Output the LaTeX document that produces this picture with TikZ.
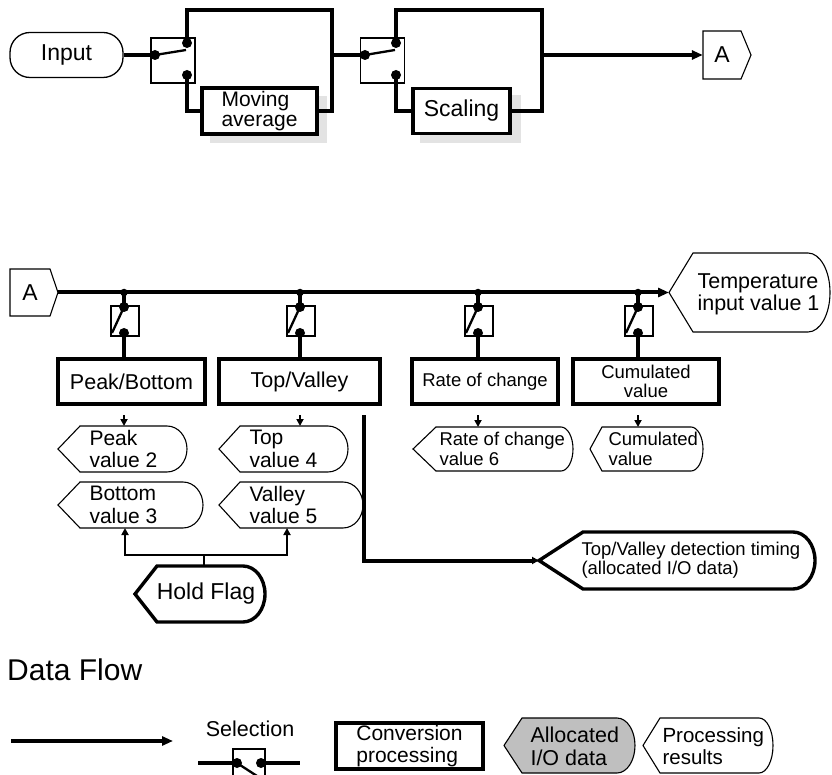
\documentclass[tikz,border=0pt]{standalone}
\usepackage{fontspec}
\setmainfont{Liberation Sans}
\usetikzlibrary{arrows.meta}
% output-data shape: #1 name, #2 tip x, #3 inset, #4 right x, #5 top y, #6 bottom y, #7 end radius, #8 style
\newcommand\outsh[8]{%
  \draw[#8] (#2,{(#5+#6)/2}) -- ({#2+#3},#5) -- ({#4-#7},#5)
    .. controls ({#4-0.448*#7},#5) and (#4,{(#5+#6)/2-0.276*(#6-#5)}) .. (#4,{(#5+#6)/2})
    .. controls (#4,{(#5+#6)/2+0.276*(#6-#5)}) and ({#4-0.448*#7},#6) .. ({#4-#7},#6)
    -- ({#2+#3},#6) -- cycle;
  \node[inner sep=0pt, outer sep=0pt, minimum width={#4-#2}, minimum height={#6-#5}] (#1) at ({(#2+#4)/2},{(#5+#6)/2}) {};
}
\tikzset{
  thickln/.style={line width=3.4pt},
  busln/.style={line width=4pt},
  bigtip/.style={-{Triangle[length=11pt,width=9pt]}},
  smalltip/.style={-{Triangle[length=7pt,width=7pt]}},
  convbox/.style={draw, line width=3.4pt, inner sep=0pt, fill=white},
  swbox/.style={draw, line width=1.1pt, inner sep=0pt},
  swdot/.style={circle, fill=black, inner sep=0pt, minimum size=10pt},
  jdot/.style={circle, fill=black, inner sep=0pt, minimum size=7.5pt},
  lever/.style={line width=2.3pt},
  outl/.style={draw, line width=1.1pt},
  boldl/.style={draw, line width=3.4pt},
  grayio/.style={draw, line width=1.1pt, fill=black!25},
  shadow/.style={fill=black!11},
  fA/.style={font=\fontsize{23}{25}\selectfont},
  fB/.style={font=\fontsize{21.5}{23}\selectfont},
  fC/.style={font=\fontsize{21}{20}\selectfont},
  fD/.style={font=\fontsize{21}{22.5}\selectfont},
  fE/.style={font=\fontsize{18.5}{19.5}\selectfont},
  fT/.style={font=\fontsize{21.5}{22}\selectfont},
}
\begin{document}
\begin{tikzpicture}[x=1pt,y=-1pt]
\useasboundingbox (0,0) rectangle (832,775);
\clip (0,0) rectangle (832,775);

% ================= top section =================
\node[draw, line width=1.3pt, rounded corners=20pt, minimum width=113pt, minimum height=45pt, inner sep=0pt, fA] (input) at (66.5,55) {Input};

% switch 1
\node[swbox, minimum width=44pt, minimum height=45pt] (sw1) at (173,60.5) {};
\node[swdot] (s1in) at (155,55) {};
\node[swdot] (s1up) at (187,43) {};
\node[swdot] (s1dn) at (187,75) {};
\coordinate (s1lev) at (186,50);
\draw[lever] (s1in.center) -- (s1lev);
\draw[thickln] (input.east) -- (s1in.center);

% moving average
\fill[shadow] (210,96) rectangle (327,143);
\node[convbox, minimum width=115pt, minimum height=46pt, fC, align=left] (mavg) at (259.5,111) {Moving\\average};
\coordinate (b1tr) at (332,10);
\coordinate (b1j) at (332,55);
\draw[thickln] (s1up.center) |- (b1tr) -- (b1tr |- mavg.east) -- (mavg.east);
\draw[thickln] (s1dn.center) |- (mavg.west);

% switch 2
\node[swbox, minimum width=44pt, minimum height=45pt] (sw2) at (382.5,60.5) {};
\node[swdot] (s2in) at (365,55) {};
\node[swdot] (s2up) at (396,43) {};
\node[swdot] (s2dn) at (396,75) {};
\coordinate (s2lev) at (395,50);
\draw[lever] (s2in.center) -- (s2lev);
\draw[thickln] (b1j) -- (s2in.center);

% scaling
\fill[shadow] (420,95) rectangle (521,143);
\node[convbox, minimum width=97pt, minimum height=45pt, fA] (scal) at (461.5,111) {Scaling};
\coordinate (b2tr) at (542,10);
\coordinate (b2j) at (542,55);
\draw[thickln] (s2up.center) |- (b2tr) -- (b2tr |- scal.east) -- (scal.east);
\draw[thickln] (s2dn.center) |- (scal.west);

% connector A (top)
\draw[line width=1.1pt] (703,31) -- (741,31) -- (751,55) -- (741,79) -- (703,79) -- cycle;
\node[inner sep=0pt, minimum width=38pt, minimum height=48pt, fA] (Atop) at (722,55) {A};
\draw[thickln, bigtip] (b2j) -- (Atop.west);

% ================= middle section =================
\draw[line width=1.1pt] (10,269) -- (50,269) -- (58,292.5) -- (50,316) -- (10,316) -- cycle;
\node[inner sep=0pt, minimum width=40pt, minimum height=47pt, fA] (Abot) at (30,292.5) {A};
\coordinate (Abtip) at (58,292.5);

\outsh{temp}{669}{24}{830}{253}{332}{22}{outl}
\node[anchor=west, align=left, fT] (tempt) at (694,294) {Temperature\\input value 1};
\draw[busln, bigtip] (Abtip) -- (temp.west);

% processing boxes
\node[convbox, minimum width=147pt, minimum height=45pt, fB] (pb) at (131.5,381.5) {Peak/Bottom};
\node[convbox, minimum width=161pt, minimum height=45pt, fB] (tv) at (299.5,381.5) {Top/Valley};
\node[convbox, minimum width=146pt, minimum height=45pt, fE] (rc) at (485,381.5) {Rate of change};
\node[convbox, minimum width=146pt, minimum height=45pt, fE, align=center] (cv) at (646,381.5) {Cumulated\\value};

% selection switches on the bus
\foreach \X/\n/\b in {124/1/pb, 300/2/tv, 478/3/rc, 638/4/cv}{
  \node[jdot] (j\n) at (\X,292.5) {};
  \node[swbox, minimum width=28pt, minimum height=30pt] (vs\n) at (\X+1,321) {};
  \node[swdot] (vs\n a) at (\X,307) {};
  \node[swdot] (vs\n b) at (\X,333) {};
  \coordinate (vl\n) at (\X-12,333);
  \draw[lever] (vs\n a.center) -- (vl\n);
  \draw[thickln] (j\n.center) -- (vs\n a.center);
  \draw[thickln] (vs\n b.center) -- (vs\n b |- \b.north);
  \path (\b.south -| j\n) ++(0,9.5) coordinate (ao\n);
}

% output shapes
\outsh{pv2}{58}{22}{187}{426}{472}{20}{outl}
\node[anchor=west, align=left, fD] (pv2t) at (86,449) {Peak\\value 2};
\outsh{bv3}{58}{22}{203}{482}{528}{20}{outl}
\node[anchor=west, align=left, fD] (bv3t) at (86,505) {Bottom\\value 3};
\outsh{tv4}{219}{21}{348}{426}{472}{20}{outl}
\node[anchor=west, align=left, fD] (tv4t) at (246,449) {Top\\value 4};
\outsh{vv5}{219}{21}{363}{482}{528}{20}{outl}
\node[anchor=west, align=left, fD] (vv5t) at (246,505) {Valley\\value 5};
\outsh{rv6}{413}{23}{573}{427}{471}{12}{outl}
\node[anchor=west, align=left, fE] (rv6t) at (436,449) {Rate of change\\value 6};
\outsh{cuv}{590}{12}{703}{427}{471}{12}{outl}
\node[anchor=west, align=left, fE] (cuvt) at (605,449) {Cumulated\\value};

\draw[line width=2.2pt, smalltip] (ao1) -- (ao1 |- pv2.north);
\draw[line width=2.2pt, smalltip] (ao2) -- (ao2 |- tv4.north);
\draw[line width=2.2pt, smalltip] (ao3) -- (ao3 |- rv6.north);
\draw[line width=2.2pt, smalltip] (ao4) -- (ao4 |- cuv.north);

% hold flag
\outsh{hf}{135}{22}{265}{566}{622}{22}{boldl}
\node[fA, inner sep=0pt] (hft) at (206,594) {Hold Flag};
\coordinate (hfbar) at (204,555);
\draw[line width=1.6pt] (hf.north -| hfbar) -- (hfbar);
\draw[line width=2.8pt, smalltip] (hfbar) -| (bv3.south -| 125,0);
\draw[line width=2.8pt, smalltip] (hfbar) -| (vv5.south -| 287,0);

% top/valley detection timing
\outsh{det}{539}{44}{815}{532}{589}{22}{boldl}
\node[anchor=west, align=left, fE] (dett) at (578,560) {Top/Valley detection timing\\(allocated I/O data)};
\path (tv.south -| 364,0) ++(0,9.5) coordinate (tvo);
\draw[busln, smalltip] (tvo) |- (det.west);

% ================= legend =================
\node[anchor=west, font=\fontsize{30}{32}\selectfont, inner sep=0pt] (dflow) at (7,670) {Data Flow};

\coordinate (lg1) at (11,741);
\coordinate (lg2) at (173,741);
\draw[thickln, bigtip] (lg1) -- (lg2);

\node[fB, inner sep=0pt] (seltxt) at (250,729) {Selection};
\node[swbox, minimum width=32pt, minimum height=42pt] (lsw) at (249,770) {};
\node[swdot] (lsa) at (237,763) {};
\node[swdot] (lsb) at (261,763) {};
\coordinate (lsl) at (198,763);
\coordinate (lsr) at (300,763);
\coordinate (lslev) at (257,776);
\draw[thickln] (lsl) -- (lsa.center);
\draw[thickln] (lsb.center) -- (lsr);
\draw[lever] (lsa.center) -- (lslev);

\node[convbox, minimum width=147pt, minimum height=46pt, fD, align=left] (conv) at (409.5,746) {Conversion\\processing};

\outsh{aio}{504}{18}{635}{718}{773}{18}{grayio}
\node[anchor=west, align=left, fB] (aiot) at (527,746) {Allocated\\I/O data};
\outsh{pres}{643}{17}{773}{718}{773}{14}{outl}
\node[anchor=west, align=left, font=\fontsize{20.5}{22}\selectfont] (prest) at (659,746) {Processing\\results};
\end{tikzpicture}
\end{document}
